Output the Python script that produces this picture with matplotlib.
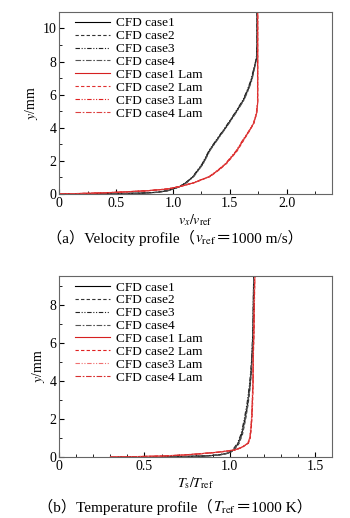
import numpy as np
import matplotlib
matplotlib.use("Agg")
import matplotlib.pyplot as plt
from matplotlib.ticker import MultipleLocator

plt.rcParams['font.family'] = ['Liberation Serif', 'Noto Sans CJK SC']
plt.rcParams['mathtext.fontset'] = 'stix'

# ---- (a) velocity profile: y [mm] vs vx/vref ----
y_vel = [0.0, 0.02, 0.05, 0.1, 0.2, 0.3, 0.45, 0.7, 1.06, 1.8, 2.66, 3.4, 4.07, 4.9, 5.67, 6.3, 6.87, 7.6, 8.18, 9.0, 11.0]
vel_case1 = [0.0, 0.45, 0.72, 0.86, 0.95, 1.0, 1.06, 1.12, 1.18, 1.26, 1.325, 1.40, 1.47, 1.55, 1.62, 1.66, 1.69, 1.715, 1.735, 1.74, 1.74]
vel_case2 = [0.0, 0.46, 0.73, 0.87, 0.955, 1.0, 1.06, 1.12, 1.18, 1.26, 1.325, 1.40, 1.47, 1.55, 1.62, 1.66, 1.69, 1.715, 1.735, 1.74, 1.74]
vel_case3 = [0.0, 0.44, 0.71, 0.85, 0.945, 0.995, 1.055, 1.115, 1.175, 1.255, 1.32, 1.395, 1.465, 1.545, 1.615, 1.655, 1.685, 1.712, 1.733, 1.74, 1.74]
vel_case4 = [0.0, 0.47, 0.74, 0.87, 0.96, 1.005, 1.065, 1.125, 1.185, 1.265, 1.33, 1.405, 1.475, 1.555, 1.625, 1.665, 1.695, 1.718, 1.737, 1.742, 1.742]

y_vel_lam = [0.0, 0.02, 0.05, 0.1, 0.2, 0.3, 0.45, 0.67, 1.06, 1.5, 1.86, 2.6, 3.27, 3.8, 4.27, 4.87, 5.5, 11.0]
vel_lam1 = [0.0, 0.12, 0.3, 0.5, 0.78, 0.95, 1.06, 1.18, 1.325, 1.41, 1.47, 1.56, 1.62, 1.67, 1.71, 1.735, 1.745, 1.745]
vel_lam2 = [0.0, 0.13, 0.31, 0.51, 0.79, 0.955, 1.065, 1.185, 1.33, 1.415, 1.475, 1.565, 1.625, 1.673, 1.712, 1.737, 1.746, 1.746]
vel_lam3 = [0.0, 0.11, 0.29, 0.49, 0.77, 0.945, 1.055, 1.175, 1.32, 1.405, 1.465, 1.555, 1.615, 1.667, 1.708, 1.733, 1.744, 1.744]
vel_lam4 = [0.0, 0.12, 0.3, 0.5, 0.78, 0.95, 1.06, 1.18, 1.325, 1.41, 1.47, 1.56, 1.62, 1.67, 1.71, 1.735, 1.745, 1.745]

# ---- (b) temperature profile: y [mm] vs Ts/Tref ----
y_tmp = [0.0, 0.02, 0.05, 0.1, 0.2, 0.35, 0.72, 1.2, 1.94, 2.8, 3.69, 4.5, 5.45, 7.0, 9.5]
tmp_case1 = [0.35, 0.7, 0.85, 0.93, 0.99, 1.02, 1.05, 1.07, 1.088, 1.105, 1.117, 1.125, 1.131, 1.137, 1.14]
tmp_case2 = [0.35, 0.71, 0.86, 0.94, 0.995, 1.025, 1.055, 1.075, 1.092, 1.108, 1.12, 1.127, 1.133, 1.138, 1.141]
tmp_case3 = [0.35, 0.69, 0.84, 0.92, 0.985, 1.015, 1.045, 1.066, 1.084, 1.101, 1.114, 1.123, 1.13, 1.136, 1.14]
tmp_case4 = [0.35, 0.72, 0.86, 0.94, 0.99, 1.02, 1.052, 1.072, 1.09, 1.106, 1.118, 1.126, 1.132, 1.137, 1.14]

y_tmp_lam = [0.0, 0.02, 0.05, 0.1, 0.15, 0.25, 0.37, 0.5, 0.72, 1.0, 1.4, 2.0, 2.8, 4.0, 5.45, 7.0, 9.5]
tmp_lam1 = [0.3, 0.45, 0.6, 0.72, 0.8, 0.93, 1.03, 1.069, 1.107, 1.118, 1.123, 1.128, 1.132, 1.136, 1.138, 1.142, 1.146]
tmp_lam2 = [0.3, 0.46, 0.61, 0.73, 0.81, 0.94, 1.035, 1.072, 1.109, 1.12, 1.125, 1.13, 1.134, 1.137, 1.139, 1.143, 1.147]
tmp_lam3 = [0.3, 0.44, 0.59, 0.71, 0.79, 0.925, 1.025, 1.066, 1.105, 1.116, 1.121, 1.127, 1.131, 1.135, 1.138, 1.142, 1.146]
tmp_lam4 = [0.3, 0.45, 0.6, 0.72, 0.8, 0.93, 1.03, 1.069, 1.107, 1.118, 1.123, 1.128, 1.132, 1.136, 1.138, 1.142, 1.146]

labels = ['CFD case1', 'CFD case2', 'CFD case3', 'CFD case4',
          'CFD case1 Lam', 'CFD case2 Lam', 'CFD case3 Lam', 'CFD case4 Lam']
dashes = ['-', (0, (3, 2)), (0, (4, 1.5, 1, 1.5, 1, 1.5)), (0, (5, 1.5, 1.5, 1.5))]

fig = plt.figure(figsize=(3.5, 5.18), dpi=100)
ax1 = fig.add_axes([0.169, 0.6255, 0.78, 0.3515])
ax2 = fig.add_axes([0.169, 0.1178, 0.78, 0.3494])

black_cols = ['black', '#333333', '#222222', '#555555']
red_cols = ['#d62020', '#e03030', '#e02020', '#dd4040']

vel_turb = [vel_case1, vel_case2, vel_case3, vel_case4]
vel_lam = [vel_lam1, vel_lam2, vel_lam3, vel_lam4]
for i in range(4):
    ax1.plot(vel_turb[i], y_vel, color=black_cols[i], ls=dashes[i], lw=0.8, label=labels[i])
for i in range(4):
    ax1.plot(vel_lam[i], y_vel_lam, color=red_cols[i], ls=dashes[i], lw=0.8, label=labels[i + 4])

tmp_turb = [tmp_case1, tmp_case2, tmp_case3, tmp_case4]
tmp_lam = [tmp_lam1, tmp_lam2, tmp_lam3, tmp_lam4]
red_cols_b = ['#d62020', '#e02020', '#f07070', '#d83030']
for i in range(4):
    ax2.plot(tmp_turb[i], y_tmp, color=black_cols[i], ls=dashes[i], lw=0.8, label=labels[i])
for i in range(4):
    ax2.plot(tmp_lam[i], y_tmp_lam, color=red_cols_b[i], ls=dashes[i], lw=0.8, label=labels[i + 4])

ax1.set_xlim(0, 2.4)
ax1.set_ylim(0, 11)
ax1.xaxis.set_minor_locator(MultipleLocator(0.25))
ax1.yaxis.set_major_locator(MultipleLocator(2))
ax1.yaxis.set_minor_locator(MultipleLocator(1))
ax1.set_xticks([0, 0.5, 1.0, 1.5, 2.0])
ax1.set_xticklabels(['0', '0.5', '1.0', '1.5', '2.0'])

ax2.set_xlim(0, 1.6)
ax2.set_ylim(0, 9.5)
ax2.xaxis.set_minor_locator(MultipleLocator(0.1))
ax2.yaxis.set_major_locator(MultipleLocator(2))
ax2.yaxis.set_minor_locator(MultipleLocator(1))
ax2.set_xticks([0, 0.5, 1.0, 1.5])
ax2.set_xticklabels(['0', '0.5', '1.0', '1.5'])

for ax in (ax1, ax2):
    for s in ax.spines.values():
        s.set_color('#666666')
        s.set_linewidth(0.8)
    ax.tick_params(which='both', direction='in', top=False, right=False, labelsize=10, pad=2)
    ax.tick_params(which='major', length=3.5)
    ax.tick_params(which='minor', length=2)
    ax.set_ylabel('$y$/mm', fontsize=10, labelpad=2)
    ax.legend(loc='upper left', frameon=False, fontsize=9.5, handlelength=2.6,
              handletextpad=0.5, labelspacing=0.05, borderaxespad=0.0,
              bbox_to_anchor=(0.04, 1.0))

ax1.set_xlabel(r'$v_x/v_{\rm ref}$', fontsize=10, labelpad=2)
ax2.set_xlabel(r'$T_{\rm s}/T_{\rm ref}$', fontsize=10, labelpad=2)


def caption(parts, ypix):
    # place pieces side by side on one baseline, centered in the figure
    texts = [fig.text(0, 1 - ypix / 518, p, ha='left', va='baseline', fontsize=11)
             for p in parts]
    fig.canvas.draw()
    r = fig.canvas.get_renderer()
    widths = [t.get_window_extent(r).width for t in texts]
    x = (350 - sum(widths)) / 2
    for t, w in zip(texts, widths):
        t.set_x(x / 350)
        x += w


caption(['（a）Velocity profile（', r'$v_{\rm ref}$', '＝1000 m/s）'], 243)
caption(['（b）Temperature profile（', r'$T_{\rm ref}$', '＝1000 K）'], 512)

fig.savefig('out.png', dpi=100)
